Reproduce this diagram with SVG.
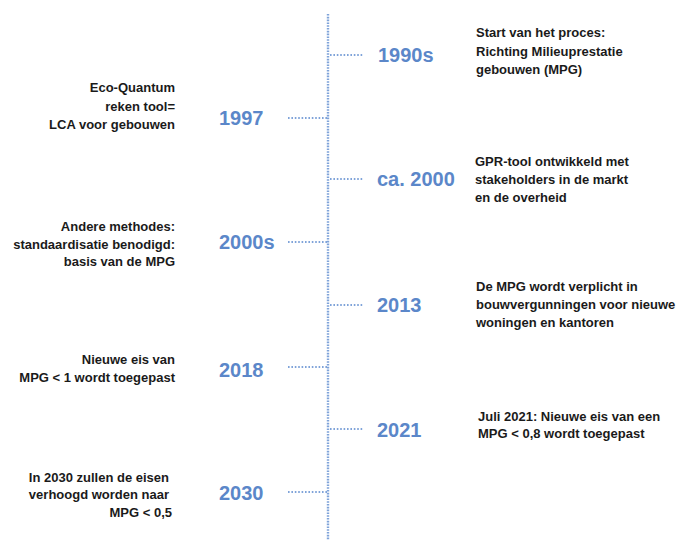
<svg xmlns="http://www.w3.org/2000/svg" width="680" height="540" viewBox="0 0 680 540">
<style>
.axis{stroke:#7fa3d9;stroke-width:2.4;stroke-dasharray:1.6 1.2;fill:none}
.tick{stroke:#7fa3d9;stroke-width:2;stroke-dasharray:1.6 1.8;fill:none}
.yr{font-family:"Liberation Sans",Arial,sans-serif;font-weight:bold;font-size:20px;fill:#5b87c9}
.t{font-family:"Liberation Sans",Arial,sans-serif;font-weight:bold;font-size:13px;fill:#1a1a1a}
.l{text-anchor:end}
</style>
<rect width="680" height="540" fill="#ffffff"/>
<g id="connectors">
<line class="axis" x1="328" y1="14" x2="328" y2="540"/>
<line class="tick" x1="330" y1="55" x2="364" y2="55"/>
<line class="tick" x1="288" y1="118" x2="327" y2="118"/>
<line class="tick" x1="330" y1="179" x2="364" y2="179"/>
<line class="tick" x1="288" y1="242" x2="327" y2="242"/>
<line class="tick" x1="330" y1="305" x2="364" y2="305"/>
<line class="tick" x1="288" y1="367" x2="327" y2="367"/>
<line class="tick" x1="330" y1="429" x2="364" y2="429"/>
<line class="tick" x1="288" y1="492" x2="327" y2="492"/>
</g>
<g id="n1990s">
<text class="yr" x="378" y="62">1990s</text>
<text class="t" x="476" y="37">Start van het proces:</text>
<text class="t" x="476" y="56">Richting Milieuprestatie</text>
<text class="t" x="476" y="74">gebouwen (MPG)</text>
</g>
<g id="n1997">
<text class="yr" x="219" y="125">1997</text>
<text class="t l" x="175" y="92">Eco-Quantum</text>
<text class="t l" x="175" y="111">reken tool=</text>
<text class="t l" x="175" y="129">LCA voor gebouwen</text>
</g>
<g id="n2000">
<text class="yr" x="377" y="186">ca. 2000</text>
<text class="t" x="475" y="166">GPR-tool ontwikkeld met</text>
<text class="t" x="475" y="184">stakeholders in de markt</text>
<text class="t" x="475" y="202">en de overheid</text>
</g>
<g id="n2000s">
<text class="yr" x="219" y="249">2000s</text>
<text class="t l" x="175" y="231">Andere methodes:</text>
<text class="t l" x="175" y="249">standaardisatie benodigd:</text>
<text class="t l" x="175" y="266">basis van de MPG</text>
</g>
<g id="n2013">
<text class="yr" x="377" y="312">2013</text>
<text class="t" x="476" y="291">De MPG wordt verplicht in</text>
<text class="t" x="476" y="309">bouwvergunningen voor nieuwe</text>
<text class="t" x="476" y="327">woningen en kantoren</text>
</g>
<g id="n2018">
<text class="yr" x="219" y="377">2018</text>
<text class="t l" x="175" y="364">Nieuwe eis van</text>
<text class="t l" x="175" y="382">MPG &lt; 1 wordt toegepast</text>
</g>
<g id="n2021">
<text class="yr" x="377" y="437">2021</text>
<text class="t" x="478" y="421">Juli 2021: Nieuwe eis van een</text>
<text class="t" x="478" y="438">MPG &lt; 0,8 wordt toegepast</text>
</g>
<g id="n2030">
<text class="yr" x="219" y="500">2030</text>
<text class="t l" x="169" y="482">In 2030 zullen de eisen</text>
<text class="t l" x="169" y="499">verhoogd worden naar</text>
<text class="t l" x="172" y="517">MPG &lt; 0,5</text>
</g>
</svg>
